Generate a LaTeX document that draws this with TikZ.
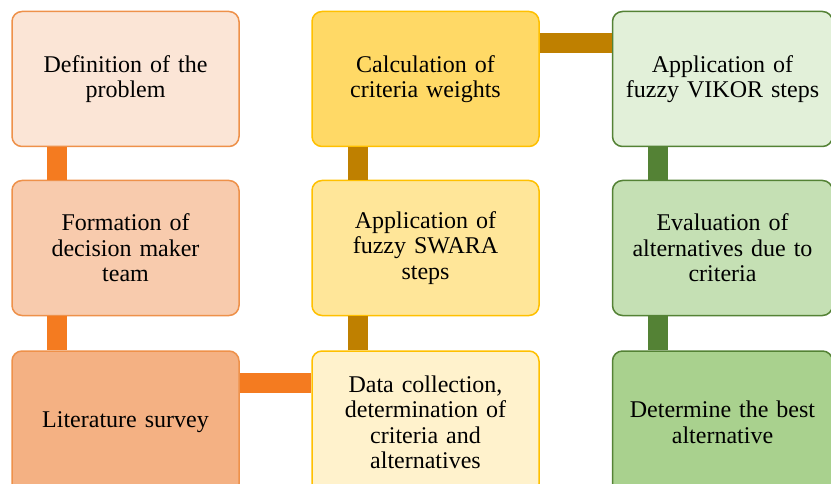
\documentclass[tikz,border=0pt]{standalone}
\usepackage{fontspec}
\setmainfont{Liberation Serif}
\definecolor{orfillA}{HTML}{FBE5D6}
\definecolor{orfillB}{HTML}{F8CBAD}
\definecolor{orfillC}{HTML}{F4B183}
\definecolor{orline}{HTML}{EE914A}
\definecolor{orbar}{HTML}{F47B20}
\definecolor{yefillA}{HTML}{FFD966}
\definecolor{yefillB}{HTML}{FFE699}
\definecolor{yefillC}{HTML}{FFF2CC}
\definecolor{yeline}{HTML}{FFC000}
\definecolor{yebar}{HTML}{BF8000}
\definecolor{grfillA}{HTML}{E2F0D9}
\definecolor{grfillB}{HTML}{C5E0B4}
\definecolor{grfillC}{HTML}{A9D18E}
\definecolor{grline}{HTML}{548235}
\definecolor{grbar}{HTML}{548235}

\begin{document}
\begin{tikzpicture}[x=1pt,y=1pt,
  stage/.style={rounded corners=10pt,line width=1.5pt,minimum width=227pt,
    minimum height=135pt,inner sep=0pt,text width=220pt,align=center,
    font=\fontsize{24}{25.5}\selectfont},
  bar/.style={line width=20pt}]
\clip (0,0) rectangle (831,483);
\draw (125.5,404) node[stage,fill=orfillA,draw=orline] (def) {Definition of the\\problem};
\draw (125.5,235) node[stage,fill=orfillB,draw=orline] (team) {Formation of\\decision maker\\team};
\draw (125.5,60.5) node[stage,minimum height=143pt,fill=orfillC,draw=orline] (lit) {Literature survey};
\draw (425.5,404) node[stage,fill=yefillA,draw=yeline] (calc) {Calculation of\\criteria weights};
\draw (425.5,235) node[stage,fill=yefillB,draw=yeline] (swara) {Application of\\fuzzy SWARA\\steps};
\draw (425.5,60.5) node[stage,minimum height=143pt,fill=yefillC,draw=yeline] (data) {Data collection,\\determination of\\criteria and\\alternatives};
\draw (722.5,404) node[stage,minimum width=219pt,fill=grfillA,draw=grline] (vikor) {Application of\\fuzzy VIKOR steps};
\draw (722.5,235) node[stage,minimum width=219pt,fill=grfillB,draw=grline] (eval) {Evaluation of\\alternatives due to\\criteria};
\draw (722.5,60.5) node[stage,minimum width=219pt,minimum height=143pt,fill=grfillC,draw=grline] (best) {Determine the best\\alternative};
\draw[bar,orbar] ([xshift=46pt]def.south west) -- ([xshift=46pt]team.north west);
\draw[bar,orbar] ([xshift=46pt]team.south west) -- ([xshift=46pt]lit.north west);
\draw[bar,orbar] ([yshift=-33pt]lit.north east) -- ([yshift=-33pt]data.north west);
\draw[bar,yebar] ([xshift=46.5pt]data.north west) -- ([xshift=46.5pt]swara.south west);
\draw[bar,yebar] ([xshift=46.5pt]swara.north west) -- ([xshift=46.5pt]calc.south west);
\draw[bar,yebar] ([yshift=-32.5pt]calc.north east) -- ([yshift=-32.5pt]vikor.north west);
\draw[bar,grbar] ([xshift=46.5pt]vikor.south west) -- ([xshift=46.5pt]eval.north west);
\draw[bar,grbar] ([xshift=46.5pt]eval.south west) -- ([xshift=46.5pt]best.north west);
\end{tikzpicture}
\end{document}
